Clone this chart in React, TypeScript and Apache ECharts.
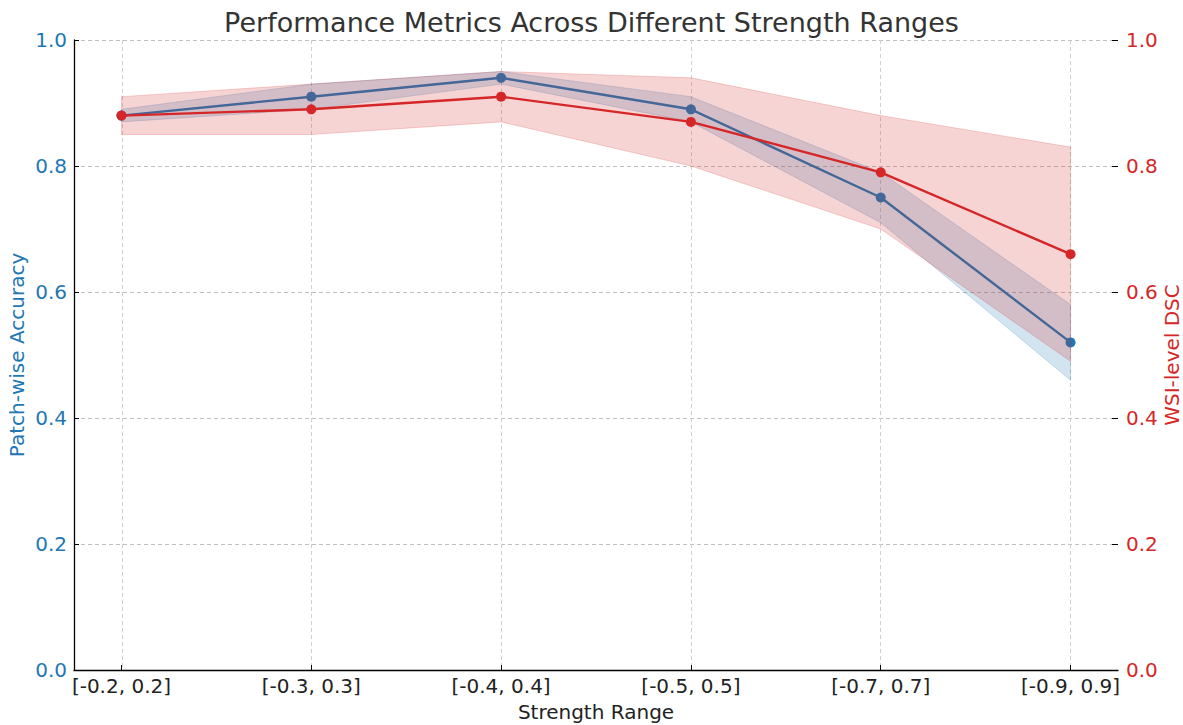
import React, { useEffect, useRef } from "react";
import * as echarts from "echarts";

const categories = ["[-0.2, 0.2]", "[-0.3, 0.3]", "[-0.4, 0.4]", "[-0.5, 0.5]", "[-0.7, 0.7]", "[-0.9, 0.9]"];
const accuracy = [0.88, 0.91, 0.94, 0.89, 0.75, 0.52];
const accuracyLow = [0.87, 0.89, 0.93, 0.87, 0.71, 0.46];
const accuracyHigh = [0.89, 0.93, 0.95, 0.91, 0.79, 0.58];
const dsc = [0.88, 0.89, 0.91, 0.87, 0.79, 0.66];
const dscLow = [0.85, 0.85, 0.87, 0.80, 0.70, 0.49];
const dscHigh = [0.91, 0.93, 0.95, 0.94, 0.88, 0.83];

const BLUE = "#1f77b4";
const RED = "#d62728";
const FONT = "DejaVu Sans";

export default function App() {
  const ref = useRef<HTMLDivElement>(null);
  useEffect(() => {
    if (!ref.current) return;
    const chart = echarts.init(ref.current, undefined, { renderer: "svg" });
    const idx = categories.map((_, i) => i);
    const pairs = (arr: number[]) => arr.map((v, i) => [i, v]);

    const bandSeries = (name: string, lo: number[], hi: number[], rgb: string, yAxisIndex: number) => ({
      name,
      type: "custom",
      xAxisIndex: 0,
      yAxisIndex,
      silent: true,
      data: lo.map((v, i) => [i, v, hi[i]]),
      encode: { x: 0, y: [1, 2] },
      renderItem: (params: any, api: any) => {
        if (params.dataIndex !== 0) return null;
        const upper = hi.map((v, i) => api.coord([i, v]));
        const lower = lo.map((v, i) => api.coord([i, v])).reverse();
        return {
          type: "polygon",
          shape: { points: upper.concat(lower) },
          style: {
            fill: `rgba(${rgb},0.2)`,
            stroke: `rgba(${rgb},0.2)`,
            lineWidth: 1,
          },
        };
      },
    });

    chart.setOption({
      animation: false,
      backgroundColor: "#ffffff",
      textStyle: { fontFamily: FONT },
      title: {
        text: "Performance Metrics Across Different Strength Ranges",
        left: "center",
        top: 4,
        textStyle: { fontFamily: FONT, fontSize: 27, fontWeight: "normal", color: "#333333" },
      },
      grid: [
        { left: 74, right: 65, top: 40, bottom: 55, containLabel: false, outerBoundsMode: "none" },
        { left: 122, right: 113, top: 40, bottom: 55, containLabel: false, outerBoundsMode: "none" },
      ],
      xAxis: [
        {
          type: "value",
          gridIndex: 0,
          min: -0.25,
          max: 5.25,
          name: "Strength Range",
          nameLocation: "middle",
          nameGap: 32,
          nameMoveOverlap: false,
          nameTextStyle: { fontFamily: FONT, fontSize: 20, color: "#222222" },
          axisLine: { show: true, onZero: false, lineStyle: { color: "#000000", width: 1.3 } },
          axisTick: { show: true, inside: true, length: 5, customValues: idx, lineStyle: { color: "#000000" } },
          axisLabel: {
            customValues: idx,
            formatter: (v: number) => categories[Math.round(v)] ?? "",
            fontFamily: FONT,
            fontSize: 20,
            color: "#222222",
            margin: 6,
          },
          splitLine: { show: false },
        },
        {
          type: "category",
          gridIndex: 1,
          data: categories,
          boundaryGap: false,
          axisLine: { show: false },
          axisTick: { show: false },
          axisLabel: { show: false },
          splitLine: { show: true, lineStyle: { color: "#d0d0d0", type: [4, 3], width: 1 } },
        },
      ],
      yAxis: [
        {
          type: "value",
          gridIndex: 0,
          min: 0,
          max: 1,
          interval: 0.2,
          name: "Patch-wise Accuracy",
          nameLocation: "middle",
          nameGap: 47,
          nameRotate: 90,
          nameMoveOverlap: false,
          nameTextStyle: { fontFamily: FONT, fontSize: 20, color: BLUE },
          axisLine: { show: true, onZero: false, lineStyle: { color: "#000000", width: 1.3 } },
          axisTick: { show: true, inside: true, length: 5, lineStyle: { color: "#000000" } },
          axisLabel: {
            formatter: (v: number) => v.toFixed(1),
            fontFamily: FONT,
            fontSize: 20,
            color: BLUE,
            margin: 7,
          },
          splitLine: { show: true, lineStyle: { color: "#c0c0c0", type: [4, 3], width: 1 } },
        },
        {
          type: "value",
          gridIndex: 0,
          min: 0,
          max: 1,
          interval: 0.2,
          position: "right",
          name: "WSI-level DSC",
          nameLocation: "middle",
          nameGap: 44,
          nameRotate: 90,
          nameMoveOverlap: false,
          nameTextStyle: { fontFamily: FONT, fontSize: 20, color: RED },
          axisLine: { show: false, onZero: false },
          axisTick: { show: true, inside: true, length: 6, lineStyle: { color: "#000000" } },
          axisLabel: {
            formatter: (v: number) => v.toFixed(1),
            fontFamily: FONT,
            fontSize: 20,
            color: RED,
            margin: 8,
          },
          splitLine: { show: false },
        },
        {
          type: "value",
          gridIndex: 1,
          min: 0,
          max: 1,
          show: false,
          splitLine: { show: false },
        },
      ],
      series: [
        {
          name: "Patch-wise Accuracy",
          type: "line",
          xAxisIndex: 0,
          yAxisIndex: 0,
          data: pairs(accuracy),
          symbol: "circle",
          symbolSize: 10,
          itemStyle: { color: BLUE },
          lineStyle: { color: BLUE, width: 2.4 },
          z: 2,
        },
        { ...bandSeries("acc-band", accuracyLow, accuracyHigh, "31,119,180", 0), z: 3 },
        {
          name: "WSI-level DSC",
          type: "line",
          xAxisIndex: 0,
          yAxisIndex: 1,
          data: pairs(dsc),
          symbol: "circle",
          symbolSize: 10,
          itemStyle: { color: RED },
          lineStyle: { color: RED, width: 2.4 },
          z: 4,
        },
        { ...bandSeries("dsc-band", dscLow, dscHigh, "214,39,40", 1), z: 5 },
      ],
    });
    return () => chart.dispose();
  }, []);
  return <div ref={ref} style={{ position: "fixed", left: 0, top: 0, width: 1183, height: 725 }} />;
}
